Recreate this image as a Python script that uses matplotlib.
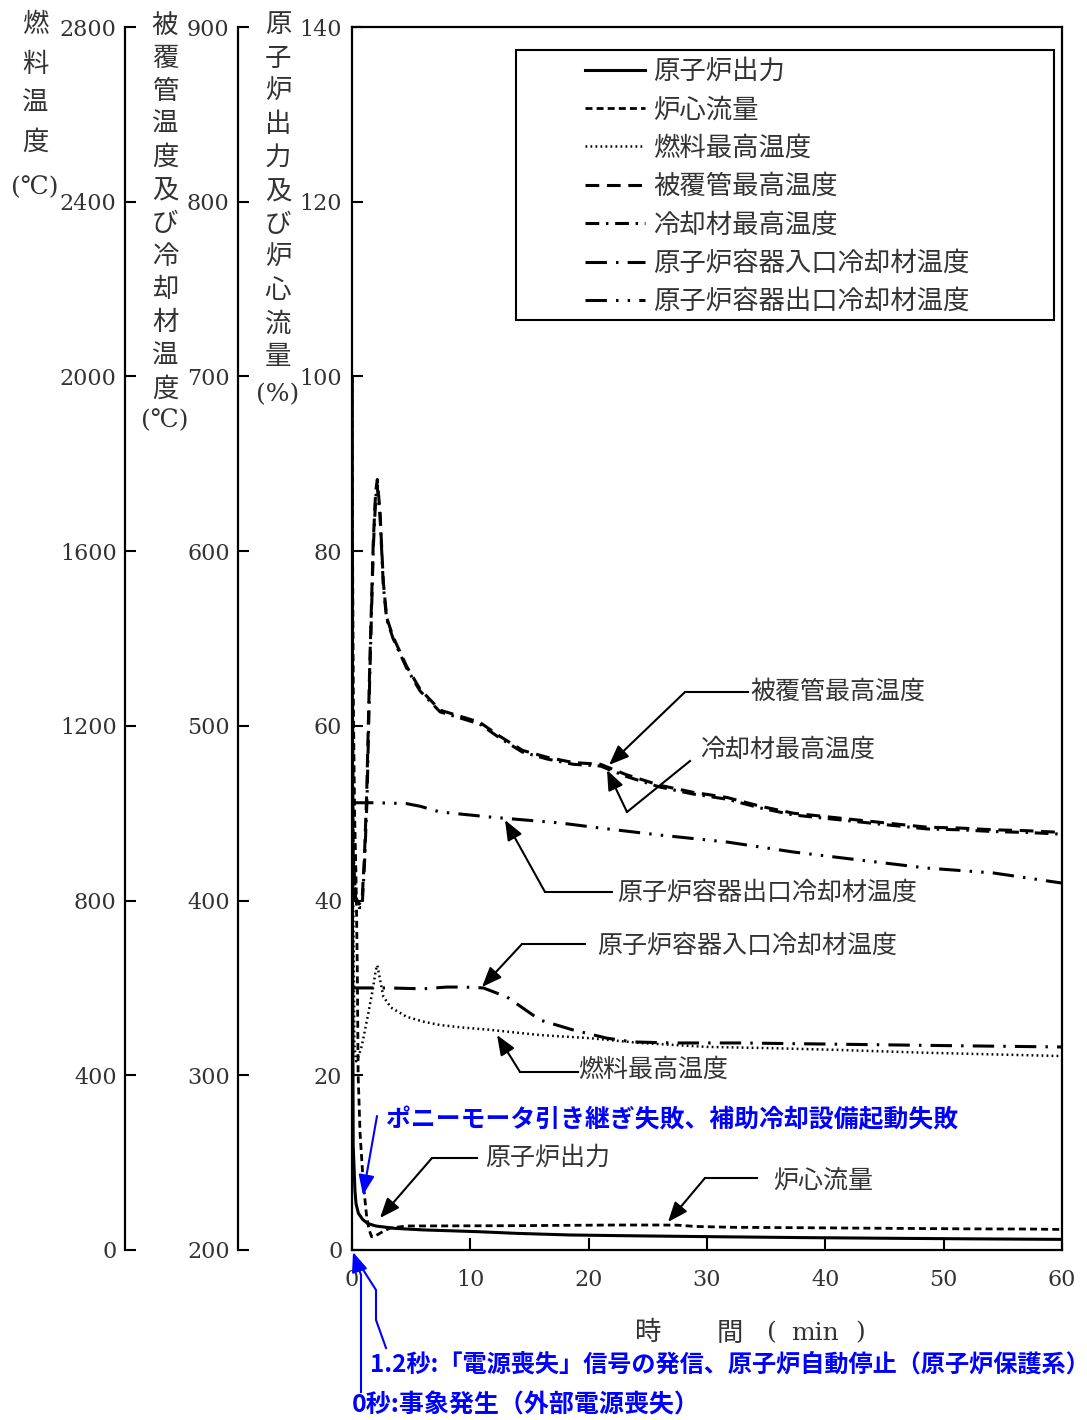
import matplotlib
matplotlib.use("Agg")
import matplotlib.pyplot as plt
from matplotlib.lines import Line2D
from matplotlib.patches import Rectangle

plt.rcParams['font.family'] = ['Noto Sans CJK JP', 'DejaVu Sans']

# ---- data (time in min) ----
t_power = [0, 0.02, 0.04, 0.1, 0.25, 0.34, 0.54, 0.9, 1.31, 2.0, 3.6, 6, 10.6, 14, 18.4, 24, 30, 38, 45.6, 52, 59.5, 60]
power = [100, 100, 40, 12, 6.8, 5.3, 4.2, 3.5, 3.05, 2.75, 2.48, 2.3, 2.1, 1.9, 1.72, 1.62, 1.53, 1.42, 1.34, 1.28, 1.22, 1.22]

t_flow = [0, 0.05, 0.12, 0.22, 0.35, 0.45, 0.52, 0.68, 0.95, 1.24, 1.45, 1.66, 1.9, 2.09, 2.6, 3.2, 4.6, 8, 14.5, 19, 22.3, 26, 27.5, 29, 32, 38, 45.6, 52, 57.2, 60]
flow = [100, 80, 62, 50, 42, 32, 20, 13.4, 7.7, 3.8, 2.3, 1.5, 1.55, 1.7, 2.1, 2.5, 2.75, 2.76, 2.79, 2.83, 2.86, 2.86, 2.84, 2.7, 2.6, 2.55, 2.48, 2.42, 2.4, 2.35]

t_fuel = [0, 0.02, 0.08, 0.2, 0.35, 0.53, 0.8, 1.0, 1.4, 1.8, 2.0, 2.14, 2.35, 2.65, 3.3, 4.62, 6, 7.44, 9.5, 11.7, 15.9, 20.1, 24.3, 30, 35.6, 41.2, 48, 54, 60]
fuel_temp = [1990, 1990, 900, 470, 432, 442, 465, 490, 545, 603, 640, 652, 622, 580, 555, 534, 523, 515, 509, 504, 492, 485, 474, 465, 462, 458, 452, 448, 444]

t_clad = [0, 0.02, 0.08, 0.3, 0.6, 0.85, 1.05, 1.24, 1.5, 1.8, 2.0, 2.14, 2.37, 2.65, 2.93, 3.47, 4.62, 5.75, 7.44, 9.38, 10.8, 12.5, 14.4, 16.5, 18.7, 21.0, 23.2, 26.0, 28.8, 31.7, 34.5, 37.3, 40.1, 42.9, 45.7, 48.6, 51.4, 54.2, 57, 60]
clad_temp = [600, 600, 430, 402, 398, 400, 425, 461, 535, 606, 634, 641, 622, 582, 562, 551, 534, 521, 509, 505, 502, 494, 486, 482, 479, 478, 472, 466, 462, 459, 454, 450, 448, 446, 444, 442, 441.5, 440.5, 440, 439]

t_cool = [0, 0.02, 0.08, 0.3, 0.6, 0.85, 1.05, 1.27, 1.5, 1.8, 2.0, 2.12, 2.37, 2.65, 2.93, 3.47, 4.62, 5.75, 7.44, 9.38, 10.8, 12.5, 14.4, 16.5, 18.7, 21.0, 23.2, 26.0, 28.8, 31.7, 34.5, 37.3, 40.1, 42.9, 45.7, 48.6, 51.4, 54.2, 57, 60]
cool_temp = [560, 560, 425, 400, 396, 396, 420, 458, 528, 602, 630, 638, 620, 580, 561, 550, 533, 520, 508, 504, 501, 493, 485, 481, 478, 477, 471, 465, 461, 458, 453, 449, 447, 445, 443, 441, 440.5, 439.5, 439, 438]

t_inlet = [0, 3, 6, 8, 9.5, 11.1, 13.1, 15.9, 18.7, 21.5, 23.7, 27.1, 32.8, 39.8, 50, 60]
inlet_temp = [350, 350, 349.5, 350.5, 350.5, 350, 344.8, 331.6, 325.9, 321.3, 319.1, 318.5, 318.5, 317.9, 317, 316.2]

t_outlet = [0, 0.08, 2, 4.6, 5.75, 7.44, 11.7, 17.6, 21.0, 26.0, 31.7, 37.3, 42.9, 48.6, 54.2, 60]
outlet_temp = [456, 456, 456, 455.5, 454, 450.7, 447.8, 444.4, 441.5, 437.5, 433.5, 427.8, 423.2, 418.6, 415.8, 410]

x_ticks = [0, 10, 20, 30, 40, 50, 60]
power_ticks = [0, 20, 40, 60, 80, 100, 120, 140]
clad_ticks = [200, 300, 400, 500, 600, 700, 800, 900]
fuel_ticks = [0, 400, 800, 1200, 1600, 2000, 2400, 2800]

legend_labels = ['原子炉出力', '炉心流量', '燃料最高温度', '被覆管最高温度',
                 '冷却材最高温度', '原子炉容器入口冷却材温度', '原子炉容器出口冷却材温度']

W, H = 1087, 1420
GRAY = '#333333'
BLUE = '#0000ff'
NUM = 'DejaVu Serif'


def P(x, y):
    # pixel (top-left origin) -> figure fraction
    return (x / W, 1 - y / H)


fig = plt.figure(figsize=(W / 100, H / 100), dpi=100)
ax = fig.add_axes([352 / W, 1 - 1250 / H, 710 / W, 1223 / H])
ax_clad = ax.twinx()
ax_fuel = ax.twinx()

for s in ax.spines.values():
    s.set_linewidth(1.6)
ax.set_xlim(0, 60)
ax.set_ylim(0, 140)
ax.set_xticks(x_ticks, [str(v) for v in x_ticks], fontfamily=NUM, fontsize=16, color=GRAY)
ax.set_yticks(power_ticks, [str(v) for v in power_ticks], fontfamily=NUM, fontsize=16, color=GRAY)
ax.tick_params(axis='x', direction='in', length=9, width=1.5, pad=14)
ax.tick_params(axis='y', direction='in', length=8, width=1.5, pad=7)

for a, off, lim, ticks in ((ax_clad, -114 / 710, (200, 900), clad_ticks),
                           (ax_fuel, -227 / 710, (0, 2800), fuel_ticks)):
    for s in ('top', 'right', 'bottom'):
        a.spines[s].set_visible(False)
    a.spines['left'].set_visible(True)
    a.spines['left'].set_position(('axes', off))
    a.spines['left'].set_linewidth(1.6)
    a.yaxis.set_ticks_position('left')
    a.set_ylim(*lim)
    a.set_yticks(ticks, [str(v) for v in ticks], fontfamily=NUM, fontsize=16, color=GRAY)
    a.tick_params(axis='y', direction='in', length=8, width=1.5, pad=6)

# ---- curves ----
h_power, = ax.plot(t_power, power, color='k', lw=2.2, ls='-')
h_flow, = ax.plot(t_flow, flow, color='k', lw=2, ls=(0, (2.5, 1.5)))
h_fuel, = ax_fuel.plot(t_fuel, fuel_temp, color='k', lw=1.8, ls=(0, (0.7, 1.3)))
h_clad, = ax_clad.plot(t_clad, clad_temp, color='k', lw=2.2, ls=(0, (4.5, 2.5)))
h_cool, = ax_clad.plot(t_cool, cool_temp, color='k', lw=2.2, ls=(0, (4.5, 2.2, 0.8, 2.2)))
h_in, = ax_clad.plot(t_inlet, inlet_temp, color='k', lw=2.2, ls=(0, (7, 3, 0.8, 3)))
h_out, = ax_clad.plot(t_outlet, outlet_temp, color='k', lw=2.2, ls=(0, (7, 3, 0.8, 3, 0.8, 3)))

# ---- legend ----
leg = ax_fuel.legend([h_power, h_flow, h_fuel, h_clad, h_cool, h_in, h_out], legend_labels,
                     loc='upper left', bbox_to_anchor=P(585, 58), bbox_transform=fig.transFigure,
                     frameon=False, fontsize=19, labelcolor=GRAY, handlelength=2.27,
                     handletextpad=0.3, labelspacing=0.43, borderpad=0, borderaxespad=0)
fig.add_artist(Rectangle(P(516, 320), (1054 - 516) / W, (320 - 50) / H, fill=False,
                         lw=1.5, ec='k', transform=fig.transFigure))

# ---- axis titles (vertical stacked characters) ----
def stack(chars, x, y0, step, unit, unit_y):
    for i, c in enumerate(chars):
        fig.text(*P(x, y0 + i * step), c, fontsize=19, color=GRAY, ha='center', va='center')
    fig.text(*P(x, unit_y), unit, fontsize=18, color=GRAY, ha='center', va='center',
             family=[NUM, 'Noto Sans CJK JP'])


stack('燃料温度', 35, 25, 39, '(℃)', 188)
stack('被覆管温度及び冷却材温度', 165, 25, 33.1, '(℃)', 421)
stack('原子炉出力及び炉心流量', 278, 25, 33.2, '(%)', 395)

fig.text(*P(648, 1333), '時', fontsize=19, color=GRAY, ha='center', va='center')
fig.text(*P(730, 1333), '間', fontsize=19, color=GRAY, ha='center', va='center')
fig.text(*P(772, 1333), '(', fontsize=18, color=GRAY, ha='center', va='center', family=NUM)
fig.text(*P(815, 1333), 'min', fontsize=18, color=GRAY, ha='center', va='center', family=NUM)
fig.text(*P(860, 1333), ')', fontsize=18, color=GRAY, ha='center', va='center', family=NUM)

# ---- callouts ----
def line(pts, color='k', lw=1.5):
    xs = [P(*p)[0] for p in pts]
    ys = [P(*p)[1] for p in pts]
    fig.add_artist(Line2D(xs, ys, color=color, lw=lw, transform=fig.transFigure))


def arrow(start, tip, color='k', lw=1.5):
    ax.annotate('', xy=P(*tip), xycoords='figure fraction', xytext=P(*start),
                textcoords='figure fraction', annotation_clip=False,
                arrowprops=dict(arrowstyle='-|>,head_length=0.55,head_width=0.22', color=color,
                                lw=lw, mutation_scale=22, shrinkA=0, shrinkB=0))


callouts = [
    ('被覆管最高温度', (750, 692), [(748, 692), (685, 692)], (609, 765)),
    ('冷却材最高温度', (700, 750), [(690, 761), (627, 812)], (607, 770)),
    ('原子炉容器出口冷却材温度', (617, 893), [(612, 892), (545, 892)], (505, 820)),
    ('原子炉容器入口冷却材温度', (597, 946), [(585, 944), (522, 944)], (482, 987)),
    ('燃料最高温度', (578, 1070), [(578, 1072), (520, 1072)], (497, 1035)),
    ('原子炉出力', (485, 1158), [(477, 1158), (432, 1158)], (380, 1218)),
    ('炉心流量', (773, 1181), [(757, 1178), (705, 1178)], (668, 1222)),
]
for text, tpos, pts, tip in callouts:
    fig.text(*P(*tpos), text, fontsize=18, color=GRAY, ha='left', va='center')
    line(pts)
    arrow(pts[-1], tip)

fig.text(*P(386, 1120), 'ポニーモータ引き継ぎ失敗、補助冷却設備起動失敗', fontsize=17.9,
         color=BLUE, fontweight='bold', ha='left', va='center')
arrow((377, 1116), (363, 1195), color=BLUE, lw=1.5)

fig.text(*P(370, 1365), '1.2秒:「電源喪失」信号の発信、原子炉自動停止（原子炉保護系）',
         fontsize=17.4, color=BLUE, fontweight='bold', ha='left', va='center')
fig.text(*P(352, 1405), '0秒:事象発生（外部電源喪失）', fontsize=18, color=BLUE,
         fontweight='bold', ha='left', va='center')
line([(361, 1392), (361, 1275)], color=BLUE)
arrow((361, 1275), (353, 1252), color=BLUE)
line([(386, 1348), (376, 1320), (376, 1290), (362, 1268)], color=BLUE)

fig.savefig('out.png', dpi=100)
